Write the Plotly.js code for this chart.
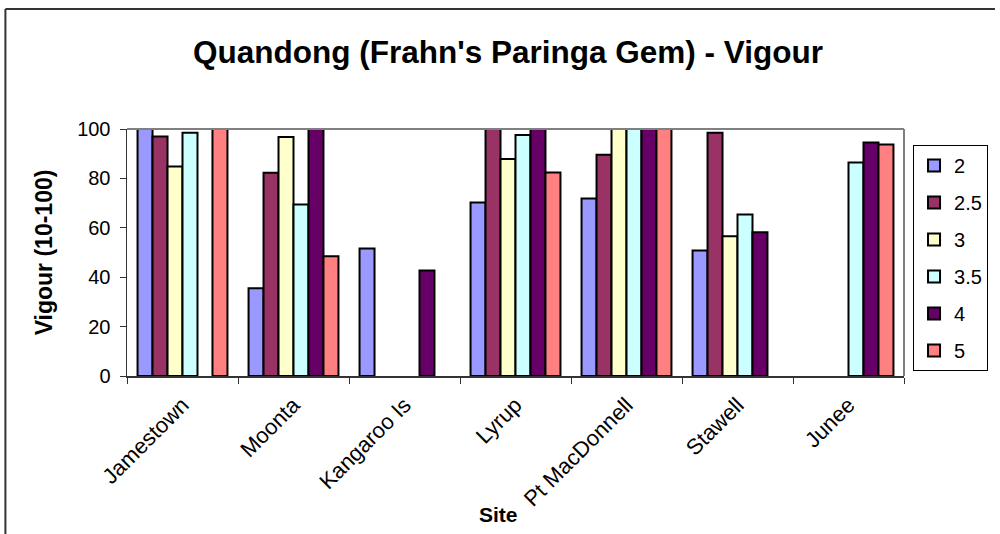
<!DOCTYPE html>
<html>
<head>
<meta charset="utf-8">
<script src="https://cdn.plot.ly/plotly-3.0.1.min.js"></script>
<style>
html,body{margin:0;padding:0;background:#fff;}
#chart{width:1000px;height:534px;}
</style>
</head>
<body>
<div id="chart"></div>
<script>
const sites = ["Jamestown", "Moonta", "Kangaroo Is", "Lyrup", "Pt MacDonnell", "Stawell", "Junee"];
const seriesNames = ["2", "2.5", "3", "3.5", "4", "5"];
const v2   = [100, 35.5, 51.6, 70.2, 71.9, 50.8, null];
const v2_5 = [97, 82.3, null, 100, 89.6, 98.5, null];
const v3   = [84.8, 96.8, null, 87.9, 100, 56.6, null];
const v3_5 = [98.5, 69.4, null, 97.6, 100, 65.4, 86.4];
const v4   = [null, 100, 42.7, 100, 100, 58.2, 94.5];
const v5   = [100, 48.5, null, 82.4, 100, null, 93.7];
const seriesValues = [v2, v2_5, v3, v3_5, v4, v5];
const colors = ["#9999FF", "#993366", "#FFFFCC", "#CCFFFF", "#660066", "#FF8080"];
const yTicks = [0, 20, 40, 60, 80, 100];

const traces = seriesNames.map((name, i) => ({
  type: "bar",
  name: name,
  x: sites,
  y: seriesValues[i],
  legendgroup: "g" + i,
  marker: { color: colors[i], line: { color: "#000000", width: 2 } },
  hoverinfo: "x+y+name"
}));

const M = { l: 127, r: 87, t: 129, b: 158 };
const W = 1000, H = 534;
const pw = W - M.l - M.r, ph = H - M.t - M.b;
const px = x => (x - M.l) / pw;
const py = y => (H - M.b - y) / ph;

const font = "Liberation Sans, Arial, sans-serif";

const layout = {
  width: W, height: H,
  margin: M,
  paper_bgcolor: "#ffffff",
  plot_bgcolor: "#ffffff",
  font: { family: font, color: "#000000" },
  title: {
    text: "<b>Quandong (Frahn's Paringa Gem) - Vigour</b>",
    font: { family: font, size: 31.5, color: "#000000" },
    x: 0.508, xanchor: "center",
    y: 1 - 52 / H, yanchor: "middle"
  },
  barmode: "group",
  bargap: 0.19,
  bargroupgap: 0,
  showlegend: true,
  legend: {
    x: px(998), xanchor: "right",
    y: py(145), yanchor: "top",
    bordercolor: "#000000", borderwidth: 1,
    bgcolor: "#ffffff",
    font: { family: font, size: 20, color: "#000000" },
    traceorder: "grouped",
    tracegroupgap: 8,
    itemwidth: 30
  },
  xaxis: {
    type: "category",
    categoryorder: "array",
    categoryarray: sites,
    tickangle: -45,
    tickfont: { family: font, size: 22, color: "#000000" },
    ticks: "outside",
    tickson: "boundaries",
    ticklen: 6,
    tickcolor: "#333333",
    ticklabelstandoff: 6,
    showline: true, linecolor: "#333333", linewidth: 1.5,
    showgrid: false, zeroline: false,
    automargin: false
  },
  yaxis: {
    range: [0, 100],
    tickvals: yTicks,
    ticktext: yTicks.map(String),
    tickfont: { family: font, size: 20, color: "#000000" },
    ticks: "outside", ticklen: 6, tickcolor: "#333333",
    ticklabelstandoff: 5,
    showline: true, linecolor: "#333333", linewidth: 1.5,
    showgrid: false, zeroline: false,
    automargin: false,
    title: {
      text: "<b>Vigour (10-100)</b>",
      font: { family: font, size: 23, color: "#000000" },
      standoff: 18
    }
  },
  annotations: [{
    text: "<b>Site</b>",
    xref: "paper", yref: "paper",
    x: px(503), y: py(514),
    xanchor: "center", yanchor: "middle",
    showarrow: false,
    font: { family: font, size: 21, color: "#000000" }
  }],
  shapes: [
    { type: "line", xref: "paper", yref: "paper", x0: 1, x1: 1, y0: 0, y1: 1, line: { color: "#808080", width: 2 } },
    { type: "line", xref: "paper", yref: "paper", x0: 0, x1: 1, y0: 1, y1: 1, line: { color: "#808080", width: 2 } },
    { type: "line", xref: "paper", yref: "paper", x0: px(4), x1: px(4), y0: py(9), y1: py(540), line: { color: "#333333", width: 2 } },
    { type: "line", xref: "paper", yref: "paper", x0: px(4), x1: px(1005), y0: py(9), y1: py(9), line: { color: "#333333", width: 2 } }
  ]
};

Plotly.newPlot("chart", traces, layout, { displayModeBar: false, staticPlot: true });
</script>
</body>
</html>
